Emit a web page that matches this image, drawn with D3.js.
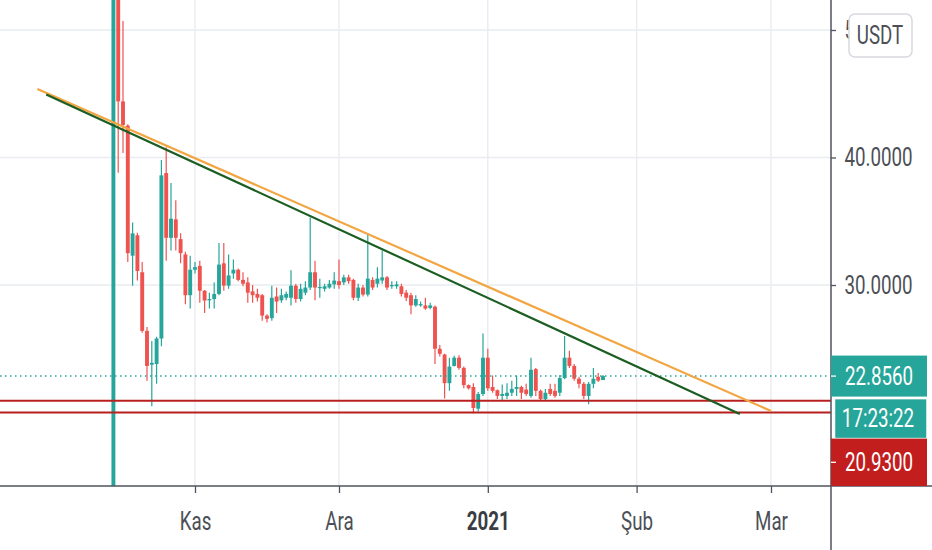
<!DOCTYPE html>
<html>
<head>
<meta charset="utf-8">
<script src="https://cdn.jsdelivr.net/npm/d3@7"></script>
<style>
  body { margin: 0; background: #fff; }
  svg { display: block; font-family: Roboto, "Noto Sans", sans-serif; }
</style>
</head>
<body>
<svg id="chart" width="932" height="550"></svg>
<script>
// daily candles, USDT pair, first candle on 15 Oct 2020
var firstDay = '2020-10-15';

var opens = [8.0, 58.0, 44.4, 42.5, 32.3, 33.9, 31.0, 26.4, 23.75, 23.8,
  25.8, 38.78, 33.7, 35.15, 33.6, 32.4, 29.2, 31.2, 31.5, 29.55,
  28.8, 28.9, 29.3, 31.7, 29.95, 30.9, 31.2, 30.4, 30.2, 29.5,
  29.3, 29.2, 27.6, 27.4, 29.1, 28.8, 29.0, 29.0, 29.95, 28.9,
  29.4, 29.8, 31.0, 29.75, 29.7, 29.8, 30.05, 30.3, 30.2, 30.6,
  30.4, 29.0, 29.8, 29.25, 30.4, 30.1, 30.35, 30.6, 29.9, 29.9,
  29.9, 29.4, 29.2, 28.4, 28.4, 28.4, 28.2, 28.3, 25.0, 24.55,
  22.3, 23.65, 24.3, 23.5, 22.15, 22.0, 20.3, 21.45, 24.3, 22.0,
  21.75, 21.3, 21.3, 21.55, 21.85, 22.0, 21.8, 21.3, 23.4, 21.7,
  21.05, 21.85, 21.7, 21.55, 22.7, 24.3, 23.65, 22.65, 22.25, 21.3,
  22.25, 22.8, 22.55];

var highs = [65.0, 61.0, 50.7, 42.6, 34.9, 34.1, 31.8, 26.7, 25.6, 25.95,
  39.8, 40.8, 38.0, 36.65, 34.05, 32.6, 32.3, 31.8, 31.9, 29.6,
  29.4, 30.2, 33.3, 33.3, 32.4, 32.0, 31.3, 31.0, 30.6, 30.0,
  29.7, 29.3, 27.7, 29.95, 29.8, 29.7, 29.5, 31.15, 30.1, 30.1,
  30.3, 35.3, 31.9, 30.5, 30.1, 30.4, 31.0, 32.0, 30.8, 30.8,
  30.5, 30.1, 30.0, 34.05, 30.6, 31.4, 32.7, 30.7, 30.3, 30.3,
  30.1, 29.6, 29.4, 29.2, 28.7, 29.0, 28.6, 28.4, 25.3, 24.6,
  24.3, 24.45, 24.5, 23.6, 22.2, 22.3, 21.6, 26.2, 25.0, 22.9,
  21.8, 22.2, 22.3, 22.5, 22.9, 22.1, 22.25, 24.3, 23.5, 21.8,
  21.85, 22.25, 22.25, 22.95, 26.0, 24.85, 23.8, 22.8, 22.4, 22.4,
  23.5, 23.1, 22.95];

var lows = [7.0, 38.8, 40.35, 31.8, 29.95, 30.35, 26.25, 22.5, 20.5, 22.25,
  25.2, 31.9, 32.7, 32.7, 31.7, 28.5, 28.15, 30.9, 28.6, 27.8,
  28.15, 28.15, 29.2, 29.55, 29.7, 30.5, 30.3, 29.9, 28.6, 28.6,
  28.7, 27.2, 27.05, 27.2, 27.8, 28.6, 28.8, 28.4, 28.6, 28.7,
  29.2, 29.6, 28.8, 29.0, 29.5, 29.7, 29.7, 29.7, 30.0, 30.1,
  28.8, 28.75, 29.1, 29.1, 29.6, 29.8, 30.1, 29.6, 29.7, 29.7,
  29.1, 28.75, 27.7, 28.3, 28.3, 28.05, 28.1, 23.8, 24.4, 21.1,
  21.7, 23.6, 23.35, 21.9, 21.8, 19.95, 20.1, 21.3, 21.7, 21.55,
  21.05, 20.9, 21.05, 21.3, 21.3, 21.05, 21.3, 21.15, 21.3, 20.9,
  20.9, 21.3, 21.15, 21.3, 22.6, 23.5, 22.5, 21.9, 21.05, 20.65,
  21.9, 22.4, 22.55];

var closes = [58.0, 44.4, 42.55, 32.5, 34.05, 31.1, 26.4, 23.65, 23.9, 25.8,
  38.6, 33.7, 35.2, 33.7, 32.5, 29.2, 31.2, 31.4, 29.55, 28.78,
  28.9, 29.3, 31.6, 29.95, 30.75, 31.2, 30.4, 30.1, 29.4, 29.2,
  29.0, 27.6, 27.35, 29.0, 28.7, 29.2, 29.3, 29.95, 28.9, 29.7,
  29.8, 31.0, 29.8, 29.85, 29.9, 30.1, 30.35, 30.0, 30.6, 30.3,
  29.0, 29.8, 29.25, 30.5, 29.8, 30.5, 30.6, 29.8, 30.0, 30.05,
  29.3, 29.0, 28.4, 28.9, 28.5, 28.15, 28.4, 25.0, 24.6, 22.3,
  23.6, 24.3, 23.5, 22.15, 21.9, 20.35, 21.45, 24.3, 21.9, 21.7,
  21.3, 21.45, 21.55, 21.85, 22.0, 21.55, 21.45, 23.35, 21.7, 21.05,
  21.55, 21.45, 21.3, 22.7, 24.3, 23.65, 22.65, 22.25, 21.3, 22.25,
  22.65, 22.5, 22.856];

var lastPrice = 22.856;
var lastPriceLabel = '22.8560';
var countdown = '17:23:22';

// horizontal support lines (the first one carries the axis label)
var supportPrices = [20.93, 20.0];
var supportLabel = '20.9300';

// drawn trend lines
var orangeDates = ['2020-09-29T04:00Z', '2021-03-01T00:00Z'];
var orangePrices = [45.37, 20.12];
var greenDates = ['2020-10-01T00:00Z', '2021-02-22T12:00Z'];
var greenPrices = [44.95, 19.88];

var gridPrices = [20, 30, 40, 50];
var priceTicks = [30, 40, 50];
var priceTickLabels = ['30.0000', '40.0000', '50.0000'];
var monthTicks = ['2020-11-01', '2020-12-01', '2021-01-01', '2021-02-01', '2021-03-01'];
var monthLabels = ['Kas', 'Ara', '2021', 'Şub', 'Mar'];
var currency = 'USDT';

var W = 932, H = 550;
var plotW = 831, plotH = 486;
var TEAL = '#26a69a', RED = '#ef5350', LINE_RED = '#b8201f';
var TXT = '#4c4f56';

var svg = d3.select('#chart');

var x = d3.scaleUtc()
  .domain([new Date(monthTicks[0]), new Date(monthTicks[4])])
  .range([195, 771]);
var y = d3.scaleLinear().domain([20, 50]).range([412.5, 30]);

var day0 = new Date(firstDay);
var candles = opens.map(function (o, i) {
  return { date: d3.utcDay.offset(day0, i), o: o, h: highs[i], l: lows[i], c: closes[i] };
});

svg.append('defs').append('clipPath').attr('id', 'plotClip')
  .append('rect').attr('width', plotW).attr('height', plotH);

// grid
var grid = svg.append('g');
grid.selectAll('.hg').data(gridPrices).enter().append('line')
  .attr('x1', 0).attr('x2', plotW)
  .attr('y1', function (d) { return y(d); }).attr('y2', function (d) { return y(d); })
  .attr('stroke', '#e9ecf1').attr('stroke-width', 1.4);
grid.selectAll('.vg').data(monthTicks).enter().append('line')
  .attr('x1', function (d) { return x(new Date(d)); }).attr('x2', function (d) { return x(new Date(d)); })
  .attr('y1', 0).attr('y2', plotH)
  .attr('stroke', '#e9ecf1').attr('stroke-width', 1.4);

var plot = svg.append('g').attr('clip-path', 'url(#plotClip)');

// candles
var bodyW = 3.9;
var cg = plot.append('g').selectAll('g').data(candles).enter().append('g')
  .attr('fill', function (d) { return d.c >= d.o ? TEAL : RED; })
  .attr('stroke', function (d) { return d.c >= d.o ? TEAL : RED; });
cg.append('line')
  .attr('x1', function (d) { return x(d.date); }).attr('x2', function (d) { return x(d.date); })
  .attr('y1', function (d) { return y(d.h); }).attr('y2', function (d) { return y(d.l); })
  .attr('stroke-width', 1.2);
cg.append('rect')
  .attr('x', function (d) { return x(d.date) - bodyW / 2; })
  .attr('width', bodyW)
  .attr('y', function (d) { return y(Math.max(d.o, d.c)); })
  .attr('height', function (d) { return Math.max(1.2, Math.abs(y(d.o) - y(d.c))); })
  .attr('stroke', 'none');

// last price dotted line
plot.append('line')
  .attr('x1', 0).attr('x2', plotW)
  .attr('y1', y(lastPrice)).attr('y2', y(lastPrice))
  .attr('stroke', TEAL).attr('stroke-width', 1.5)
  .attr('stroke-dasharray', '1.5,3.5');

// support lines
plot.selectAll('.sup').data(supportPrices).enter().append('line')
  .attr('x1', 0).attr('x2', plotW)
  .attr('y1', function (d) { return y(d); }).attr('y2', function (d) { return y(d); })
  .attr('stroke', LINE_RED).attr('stroke-width', 2);

// trend lines
function trend(dates, prices, color) {
  plot.append('line')
    .attr('x1', x(new Date(dates[0]))).attr('y1', y(prices[0]))
    .attr('x2', x(new Date(dates[1]))).attr('y2', y(prices[1]))
    .attr('stroke', color).attr('stroke-width', 2.2);
}
trend(orangeDates, orangePrices, '#f2a541');
trend(greenDates, greenPrices, '#1c5e22');

// narrow text, the screenshot is squeezed sideways
function label(g, cx, cy, txt, opts) {
  opts = opts || {};
  return g.append('text')
    .attr('transform', 'translate(' + cx + ',' + cy + ') scale(0.75,1)')
    .attr('text-anchor', 'middle')
    .attr('y', 8.9)
    .attr('font-size', 25)
    .attr('font-weight', opts.bold ? 700 : 400)
    .attr('fill', opts.fill || TXT)
    .text(txt);
}

// time axis
var xAxis = d3.axisBottom(x)
  .tickValues(monthTicks.map(function (d) { return new Date(d); }))
  .tickSize(7)
  .tickFormat(function (d, i) { return monthLabels[i]; });
var xg = svg.append('g').attr('transform', 'translate(0,' + plotH + ')').call(xAxis);
xg.select('.domain').remove();
xg.selectAll('.tick line').attr('stroke', '#50535e').attr('stroke-width', 1.3);
xg.selectAll('.tick text')
  .attr('transform', 'scale(0.75,1)')
  .attr('y', 44).attr('dy', 0)
  .attr('font-size', 25)
  .attr('font-family', 'Roboto, "Noto Sans", sans-serif')
  .attr('font-weight', function (d, i) { return monthLabels[i] === '2021' ? 700 : 400; })
  .attr('fill', function (d, i) { return monthLabels[i] === '2021' ? '#3a3d44' : TXT; });

// price axis
var yAxis = d3.axisRight(y).tickValues(priceTicks).tickSize(5).tickFormat('');
var yg = svg.append('g').attr('transform', 'translate(' + plotW + ',0)').call(yAxis);
yg.select('.domain').remove();
yg.selectAll('.tick line').attr('stroke', '#50535e').attr('stroke-width', 1.3);
priceTicks.forEach(function (p, i) {
  label(svg, 878.5, y(p), priceTickLabels[i]);
});

// axis borders
svg.append('line').attr('x1', 0).attr('x2', W).attr('y1', plotH).attr('y2', plotH)
  .attr('stroke', '#50535e').attr('stroke-width', 1.5);
svg.append('line').attr('x1', plotW).attr('x2', plotW).attr('y1', 0).attr('y2', H)
  .attr('stroke', '#50535e').attr('stroke-width', 1.5);

// currency badge, drawn over the 50 label like on the platform
svg.append('rect').attr('x', 849).attr('y', 14).attr('width', 63).attr('height', 43)
  .attr('rx', 6).attr('fill', '#fff').attr('stroke', '#d6d9de').attr('stroke-width', 1.5);
label(svg, 880, 35.5, currency);

// price labels on the axis, stacked like the platform does
var lpY = y(lastPrice);
var box1Top = lpY - 20.5, box2Top = box1Top + 43, box3Top = box2Top + 40;
svg.append('rect').attr('x', plotW).attr('y', box1Top).attr('width', 96).attr('height', 41)
  .attr('fill', TEAL);
svg.append('rect').attr('x', plotW + 3.5).attr('y', box2Top).attr('width', 92.5).attr('height', 40)
  .attr('fill', TEAL).attr('stroke', '#fff').attr('stroke-width', 1.5);
svg.append('rect').attr('x', plotW).attr('y', box3Top).attr('width', 96).attr('height', plotH - box3Top)
  .attr('fill', '#c21e1e');
svg.append('line').attr('x1', plotW).attr('x2', plotW + 5).attr('y1', lpY).attr('y2', lpY)
  .attr('stroke', '#fff').attr('stroke-width', 1.3);
svg.append('line').attr('x1', plotW).attr('x2', plotW + 5)
  .attr('y1', (box3Top + plotH) / 2).attr('y2', (box3Top + plotH) / 2)
  .attr('stroke', '#fff').attr('stroke-width', 1.3);
label(svg, 879, lpY, lastPriceLabel, { fill: '#fff' });
label(svg, 878, box2Top + 20, countdown, { fill: '#fff' });
label(svg, 879, (box3Top + plotH) / 2, supportLabel, { fill: '#fff' });
</script>
</body>
</html>
